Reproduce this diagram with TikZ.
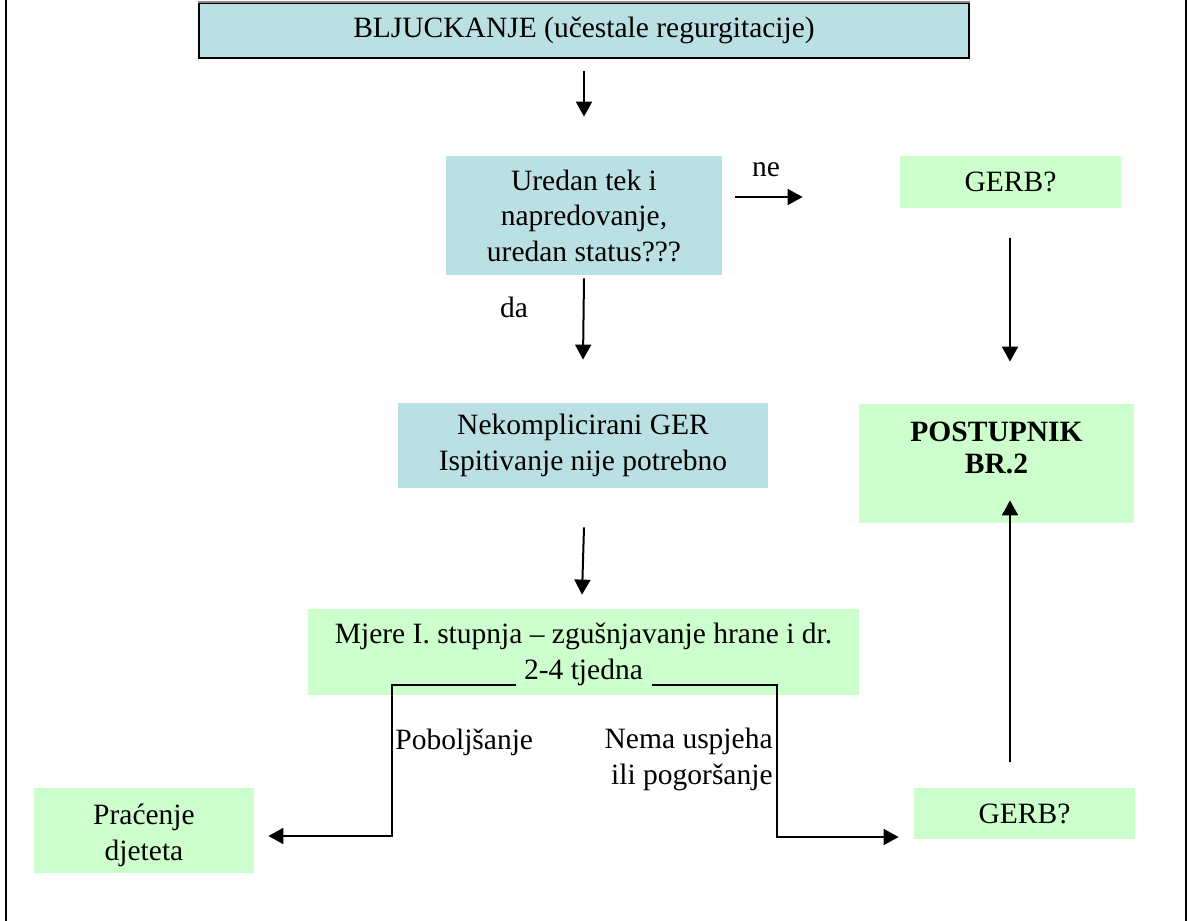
\documentclass[tikz,border=0pt]{standalone}
\usepackage{fontspec}
\setmainfont{Liberation Serif}
\usetikzlibrary{arrows.meta,calc}
\definecolor{boxblue}{HTML}{BBE0E3}
\definecolor{boxgreen}{HTML}{CCFFCC}
\begin{document}
\begin{tikzpicture}[x=0.5pt,y=-0.5pt,
  every node/.style={font=\fontsize{14.75}{17.75}\selectfont, inner sep=0pt, align=center},
  bluebox/.style={fill=boxblue},
  greenbox/.style={fill=boxgreen},
  link/.style={line width=1pt, -{Triangle[length=7.5pt,width=8pt]}},
  wire/.style={line width=1pt},
  frameline/.style={line width=1pt}
  ]
\useasboundingbox (0,0) rectangle (1189,921);

% side rules of the page frame
\draw[frameline] (6,0) -- (6,921);
\draw[frameline] (1186,0) -- (1186,921);

% boxes
\node[bluebox, draw=black, line width=1.2pt, minimum width=385pt, minimum height=27.5pt]
  (top) at (584,30.5) {BLJUCKANJE (učestale regurgitacije)};
\draw[black!45, line width=0.8pt] (top.north west) -- (top.north east);

\node[bluebox, minimum width=138pt, minimum height=59.5pt] (ured) at (584,215.5)
  {Uredan tek i\\napredovanje,\\uredan status???};
\node[greenbox, minimum width=110.5pt, minimum height=26pt] (gerbA) at (1010.5,182) {GERB?};
\node[bluebox, minimum width=185pt, minimum height=42.5pt] (nekomp) at (583,445.5)
  {Nekomplicirani GER\\Ispitivanje nije potrebno};
\node[greenbox, minimum width=137.5pt, minimum height=59.5pt] (postup) at (996.5,463.5) {};
\node[font=\fontsize{14.75}{16}\selectfont\bfseries] (postupText) at (996.5,447.5) {POSTUPNIK\\BR.2};
\node[greenbox, minimum width=275.5pt, minimum height=43pt] (mjere) at (583.5,652) {};
\node (mjereText) at (583.5,654.5) {Mjere I. stupnja -- zgušnjavanje hrane i dr.\\2-4 tjedna};
\node[greenbox, minimum width=110pt, minimum height=42.5pt] (prac) at (144,830.5) {};
\node (pracText) at (144,835.5) {Praćenje\\djeteta};
\node[greenbox, minimum width=110.5pt, minimum height=25.5pt] (gerbB) at (1024.5,813.5) {GERB?};

% connectors
\draw[link] ($(top.south)+(0,12)$) -- ($(ured.north)+(0,-39)$);
\draw[link] ($(ured.south)+(0,3)$) -- ($(nekomp.north)+(0,-43)$);
\draw[link] ($(ured.east)+(13,-18.5)$) -- ($(gerbA.west)+(-97,15)$);
\draw[link] ($(gerbA.south)+(-0.5,30)$) -- ($(postup.north)+(13.5,-42)$);
\draw[link] ($(nekomp.south)+(1,39)$) -- ($(mjere.north)+(-1.5,-14)$);
\draw[link] ($(gerbB.north)+(-14.5,-26)$) -- ($(postup.south)+(13.5,-23)$);

\coordinate (mjL) at (516,685);
\coordinate (mjR) at (652,685);
\draw[link] (mjL) -- (392,685) |- ($(prac.east)+(14,5.5)$);
\draw[link] (mjR) -- (777,685) |- ($(gerbB.west)+(-15,23.5)$);

% branch labels
\node (ne) at (766,170) {ne};
\node (da) at (514,307) {da};
\node[anchor=west] (pob) at (395,742) {Poboljšanje};
\node[anchor=east, align=right] (nema) at (773,759.5) {Nema uspjeha\\ili pogoršanje};
\end{tikzpicture}
\end{document}
